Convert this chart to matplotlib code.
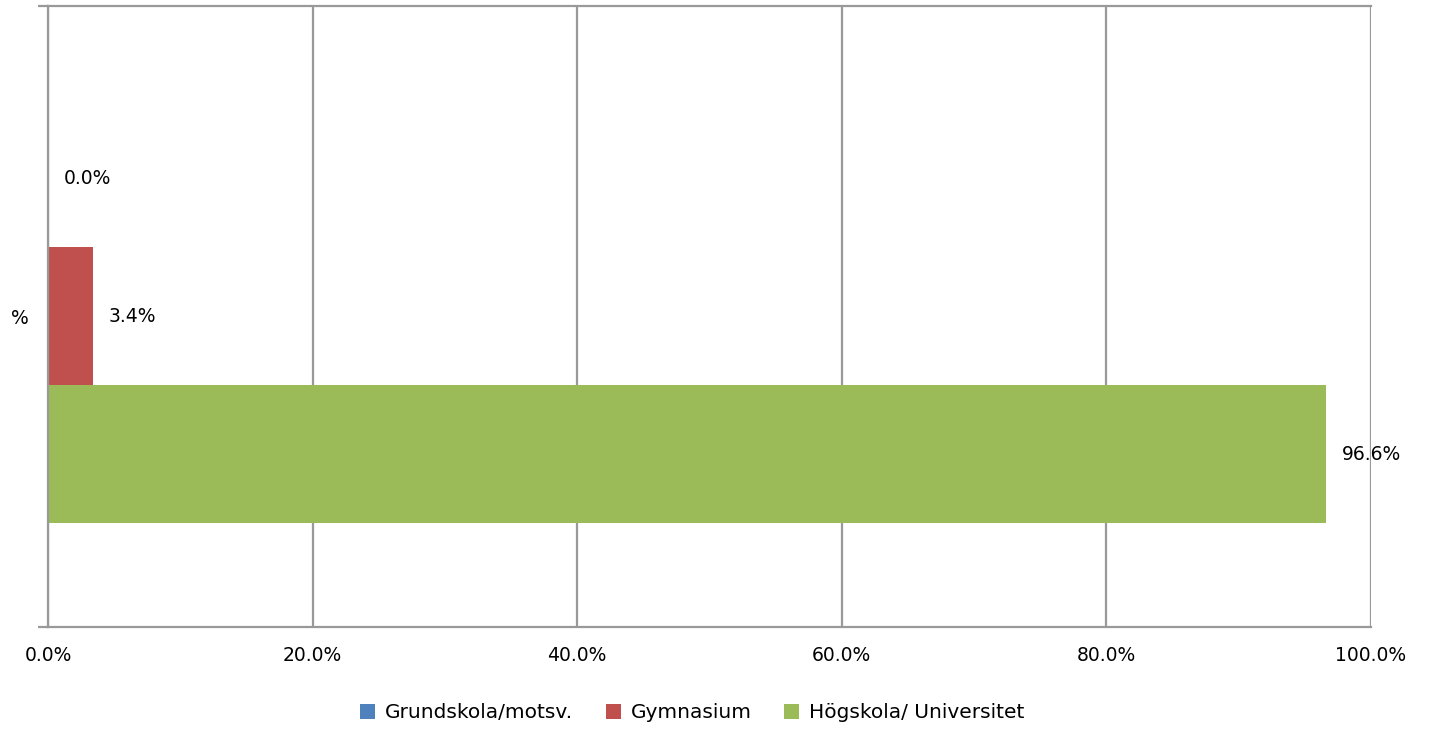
import numpy as np
import matplotlib
matplotlib.use("Agg")
import matplotlib.pyplot as plt

categories = ["%"]
series = ["Grundskola/motsv.", "Gymnasium", "Högskola/ Universitet"]
values = [0.0, 3.4, 96.6]
colors = ["#4F81BD", "#C0504D", "#9BBB59"]
xticks = [0, 20, 40, 60, 80, 100]

plt.rcParams['font.family'] = ['DejaVu Sans']
fig = plt.figure(figsize=(14.3, 7.29), dpi=100)
ax = fig.add_axes([0.0336, 0.14, 0.925, 0.852])

h = 0.222
offsets = [h, 0, -h]
y = np.arange(len(categories))
for name, v, c, off in zip(series, values, colors, offsets):
    ax.barh(y + off, [v], height=h, color=c, label=name, zorder=2)
    ax.text(v + 1.2, y[0] + off, f"{v:.1f}%", va="center", ha="left",
            fontsize=13.5, zorder=3)

ax.set_xlim(0, 100)
ax.set_ylim(-0.5, 0.5)
ax.set_xticks(xticks)
ax.set_xticklabels([f"{t:.1f}%" for t in xticks], fontsize=13.5)
ax.set_yticks(y)
ax.set_yticklabels(categories, fontsize=13.5)
ax.set_yticks([-0.5, 0.5], minor=True)
ax.grid(axis="x", color="#999999", linewidth=1.6, zorder=1)
ax.spines["right"].set_visible(False)
for s in ["left", "bottom", "top"]:
    ax.spines[s].set_color("#999999")
    ax.spines[s].set_linewidth(1.6)
ax.tick_params(axis="x", length=0, pad=14)
ax.tick_params(axis="y", which="major", length=0, pad=14)
ax.tick_params(axis="y", which="minor", length=7, width=1.6, color="#999999")

ax.legend(loc="center", bbox_to_anchor=(0.487, -0.138), ncol=3, frameon=False,
          fontsize=14.5, handlelength=0.75, handleheight=0.75, handletextpad=0.5,
          columnspacing=1.6)

fig.savefig("out.png", dpi=100)
